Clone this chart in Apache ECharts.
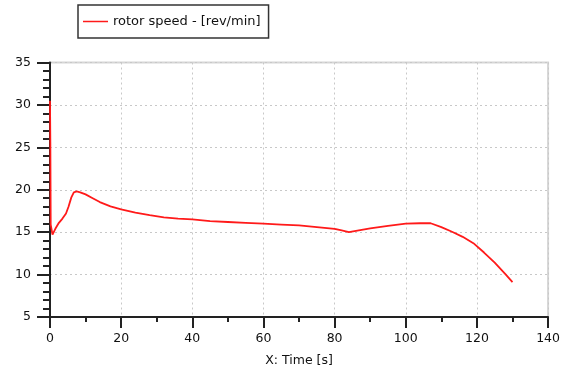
<!DOCTYPE html>
<html><head><meta charset="utf-8">
<script src="https://cdn.jsdelivr.net/npm/echarts@6/dist/echarts.min.js"></script>
<style>html,body{margin:0;padding:0;background:#fff}#c{width:563px;height:372px}</style>
</head><body><div id="c"></div>
<script>
const seriesName = 'rotor speed - [rev/min]';
const time = [0, 0.1, 0.2, 0.7, 1.5, 2.5, 3.5, 4.5, 5.2, 6.0, 6.7, 7.5, 8.5, 10, 12, 14, 17, 20, 24, 28, 32, 36, 40, 45, 50, 55, 60, 65, 70, 75, 80, 82, 84, 86, 90, 95, 100, 104, 107, 110, 113, 116, 119, 122, 125, 128, 130];
const speed = [30.5, 25.6, 15.9, 14.7, 15.4, 16.1, 16.6, 17.2, 18.0, 19.1, 19.7, 19.8, 19.7, 19.45, 19.0, 18.55, 18.05, 17.7, 17.3, 17.0, 16.75, 16.6, 16.5, 16.3, 16.2, 16.1, 16.0, 15.9, 15.8, 15.6, 15.4, 15.2, 15.0, 15.15, 15.45, 15.75, 16.0, 16.05, 16.05, 15.6, 15.05, 14.45, 13.7, 12.6, 11.4, 10.05, 9.1];
const xTicks = [0, 140, 20];
const yTicks = [5, 35, 5];
const xTitle = 'X: Time [s]';

const chart = echarts.init(document.getElementById('c'), null, {renderer: 'canvas'});
const font = 'DejaVu Sans';
chart.setOption({
  animation: false,
  backgroundColor: '#fff',
  legend: {
    left: 78, top: 5,
    padding: [10, 8, 10, 5],
    borderColor: '#333', borderWidth: 1.5,
    itemWidth: 25, itemHeight: 10, itemGap: 5,
    textStyle: {fontFamily: font, fontSize: 13, color: '#111'},
    data: [{name: seriesName, icon: 'path://M0,4 L25,4 L25,5.5 L0,5.5 Z'}]
  },
  grid: {left: 50, right: 11, top: 62.5, bottom: 49, show: true, borderColor: '#d6d6d6', borderWidth: 2},
  xAxis: {
    type: 'value', min: xTicks[0], max: xTicks[1], interval: xTicks[2],
    name: xTitle, nameLocation: 'middle', nameGap: 37,
    nameTextStyle: {fontFamily: font, fontSize: 12.5, color: '#111'},
    axisLine: {onZero: false, lineStyle: {color: '#222', width: 2}},
    axisTick: {show: true, length: 11, lineStyle: {color: '#222', width: 2}},
    minorTick: {show: true, splitNumber: 2, length: 5, lineStyle: {color: '#222', width: 2}},
    axisLabel: {margin: 15, fontFamily: font, fontSize: 12.5, color: '#111'},
    splitLine: {show: true, lineStyle: {color: '#c8c8c8', type: [2, 3], width: 1}}
  },
  yAxis: {
    type: 'value', min: yTicks[0], max: yTicks[1], interval: yTicks[2],
    axisLine: {show: true, onZero: false, lineStyle: {color: '#222', width: 2}},
    axisTick: {show: true, length: 13, lineStyle: {color: '#222', width: 2}},
    minorTick: {show: true, splitNumber: 5, length: 7, lineStyle: {color: '#222', width: 2}},
    axisLabel: {margin: 19, fontFamily: font, fontSize: 12.5, color: '#111'},
    splitLine: {show: true, lineStyle: {color: '#c8c8c8', type: [2, 3], width: 1}}
  },
  series: [{
    name: seriesName, type: 'line', showSymbol: false, symbol: 'none', z: 5,
    data: time.map((t, i) => [t, speed[i]]),
    lineStyle: {color: '#ff1a1a', width: 1.8},
    itemStyle: {color: '#ff1a1a'}
  }]
});
</script></body></html>
